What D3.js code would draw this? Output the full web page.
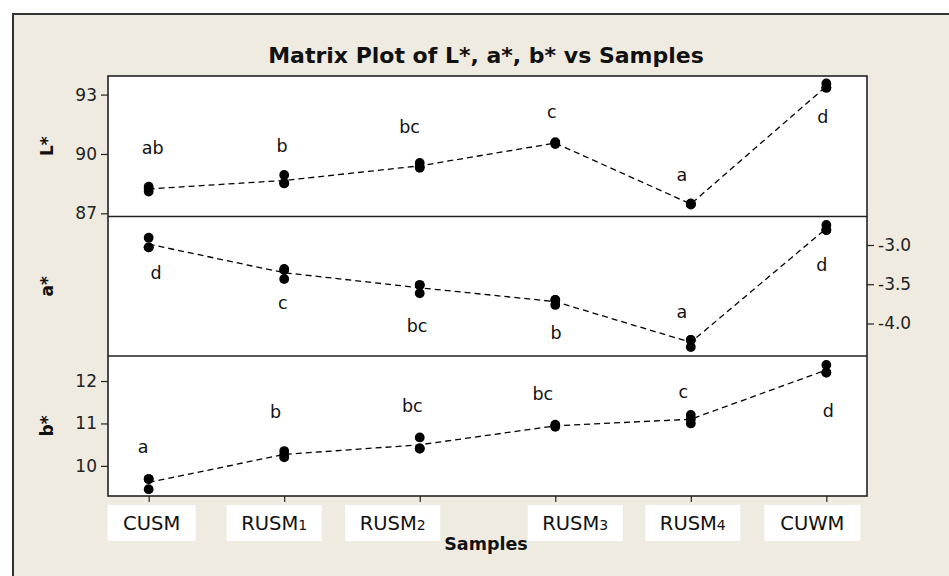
<!DOCTYPE html>
<html>
<head>
<meta charset="utf-8">
<script src="https://cdn.jsdelivr.net/npm/d3@7"></script>
<style>
  html, body { margin: 0; padding: 0; background: #ffffff; }
  svg { display: block; }
</style>
</head>
<body>
<svg id="chart" width="949" height="576"></svg>
<script>
// ---------------- DATA ----------------
const samples = ["CUSM", "RUSM1", "RUSM2", "RUSM3", "RUSM4", "CUWM"];

// replicate measurements per sample
const Lstar = [[88.35, 88.10, 88.25], [88.94, 88.52, 88.52], [89.55, 89.30, 89.35], [90.60, 90.50, 90.55], [87.50, 87.44, 87.47], [93.56, 93.35, 93.35]];
const aStar = [[-2.907, -3.03, -3.03], [-3.306, -3.433, -3.32], [-3.51, -3.615, -3.51], [-3.70, -3.764, -3.70], [-4.21, -4.30, -4.21], [-2.745, -2.81, -2.81]];
const bStar = [[9.69, 9.45, 9.69], [10.35, 10.20, 10.26], [10.67, 10.41, 10.41], [10.97, 10.92, 10.94], [11.20, 11.00, 11.10], [12.38, 12.20, 12.20]];

// significance letters and where they sit (value units / category nudge)
const Lletters = ["ab", "b", "bc", "c", "a", "d"];
const LletterY = [90.30, 90.40, 91.38, 92.14, 88.94, 91.89];
const LletterNudge = [0.03, -0.015, -0.075, -0.026, -0.066, -0.026];

const aLetters = ["d", "c", "bc", "b", "a", "d"];
const aLetterY = [-3.357, -3.735, -4.032, -4.117, -3.85, -3.255];
const aLetterNudge = [0.054, -0.011, -0.02, 0.006, -0.066, -0.033];

const bLetters = ["a", "b", "bc", "bc", "c", "d"];
const bLetterY = [10.45, 11.26, 11.41, 11.69, 11.75, 11.30];
const bLetterNudge = [-0.04, -0.063, -0.055, -0.092, -0.055, 0.015];

const Lticks = [87, 90, 93];
const aTicks = [-4.0, -3.5, -3.0];
const bTicks = [10, 11, 12];

const Ldomain = [86.84, 93.94];
const aDomain = [-4.414, -2.637];
const bDomain = [9.29, 12.59];

// ---------------- LAYOUT ----------------
const W = 949, H = 576;
const plot = { left: 108, right: 867, top: 76, bottom: 496 };
const panelEdges = [76, 216.5, 356, 496];
const labelBoxShift = [3, -10, -27, 20, 2, -14];
const labelBoxWidth = [88, 95, 95, 95, 95, 96];
const FONT = "'DejaVu Sans', Verdana, sans-serif";

const svg = d3.select("#chart");

// background
svg.append("rect").attr("x", 0).attr("y", 0).attr("width", W).attr("height", H).attr("fill", "#ffffff");
svg.append("rect").attr("x", 13).attr("y", 14).attr("width", W - 13).attr("height", H - 14).attr("fill", "#efebe1");
svg.append("path").attr("d", `M13,${H} V14 H${W}`).attr("fill", "none").attr("stroke", "#333").attr("stroke-width", 2);

// plot area
svg.append("rect")
  .attr("x", plot.left).attr("y", plot.top)
  .attr("width", plot.right - plot.left).attr("height", plot.bottom - plot.top)
  .attr("fill", "#ffffff");

const x = d3.scaleLinear().domain([0.7, 6.3]).range([plot.left, plot.right]);

const panels = [
  { data: Lstar, domain: Ldomain, ticks: Lticks, fmt: d3.format("d"), side: "left", letters: Lletters, letterY: LletterY, nudge: LletterNudge, name: "L*" },
  { data: aStar, domain: aDomain, ticks: aTicks, fmt: d3.format(".1f"), side: "right", letters: aLetters, letterY: aLetterY, nudge: aLetterNudge, name: "a*" },
  { data: bStar, domain: bDomain, ticks: bTicks, fmt: d3.format("d"), side: "left", letters: bLetters, letterY: bLetterY, nudge: bLetterNudge, name: "b*" }
];

panels.forEach((p, pi) => {
  const y0 = panelEdges[pi], y1 = panelEdges[pi + 1];
  const y = d3.scaleLinear().domain(p.domain).range([y1, y0]);

  // axis
  const axis = (p.side === "left" ? d3.axisLeft(y) : d3.axisRight(y))
    .tickValues(p.ticks).tickFormat(p.fmt).tickSize(7).tickPadding(4);
  const g = svg.append("g")
    .attr("transform", `translate(${p.side === "left" ? plot.left : plot.right},0)`)
    .call(axis);
  g.select(".domain").remove();
  g.selectAll(".tick line").attr("stroke", "#222").attr("stroke-width", 1.2);
  g.selectAll(".tick text")
    .attr("font-family", FONT).attr("font-size", 17).attr("fill", "#222")
    .text(d => p.fmt(d).replace("−", "-"));

  // mean line
  const means = p.data.map(v => d3.mean(v));
  const line = d3.line().x((d, i) => x(i + 1)).y(d => y(d));
  svg.append("path")
    .datum(means)
    .attr("d", line)
    .attr("fill", "none").attr("stroke", "#000").attr("stroke-width", 1.3)
    .attr("stroke-dasharray", "6,4");

  // points
  const pts = [];
  p.data.forEach((vals, i) => vals.forEach(v => pts.push({ i, v })));
  svg.append("g").selectAll("circle").data(pts).join("circle")
    .attr("cx", d => x(d.i + 1)).attr("cy", d => y(d.v)).attr("r", 4.9)
    .attr("fill", "#000");

  // letters
  svg.append("g").selectAll("text").data(p.letters).join("text")
    .attr("x", (d, i) => x(i + 1 + p.nudge[i]))
    .attr("y", (d, i) => y(p.letterY[i]))
    .attr("text-anchor", "middle").attr("dominant-baseline", "central")
    .attr("font-family", FONT).attr("font-size", 17.5).attr("fill", "#111")
    .text(d => d);

  // y label
  svg.append("text")
    .attr("transform", `translate(47,${(y0 + y1) / 2}) rotate(-90)`)
    .attr("text-anchor", "middle").attr("dominant-baseline", "central")
    .attr("font-family", FONT).attr("font-weight", "bold").attr("font-size", 17).attr("fill", "#111")
    .text(p.name);
});

// panel frame & separators
svg.append("rect")
  .attr("x", plot.left).attr("y", plot.top)
  .attr("width", plot.right - plot.left).attr("height", plot.bottom - plot.top)
  .attr("fill", "none").attr("stroke", "#222").attr("stroke-width", 1.6);
svg.selectAll("line.sep").data(panelEdges.slice(1, 3)).join("line")
  .attr("class", "sep")
  .attr("x1", plot.left).attr("x2", plot.right)
  .attr("y1", d => d).attr("y2", d => d)
  .attr("stroke", "#222").attr("stroke-width", 1.6);

// x axis
const xAxis = d3.axisBottom(x).tickValues(d3.range(1, samples.length + 1)).tickSize(6).tickFormat("");
const gx = svg.append("g").attr("transform", `translate(0,${plot.bottom})`).call(xAxis);
gx.select(".domain").remove();
gx.selectAll(".tick line").attr("stroke", "#222").attr("stroke-width", 1.2);

// x tick label boxes
const lab = svg.append("g").selectAll("g").data(samples).join("g")
  .attr("transform", (d, i) => `translate(${x(i + 1) + labelBoxShift[i]},0)`);
lab.append("rect")
  .attr("x", (d, i) => -labelBoxWidth[i] / 2).attr("y", 505)
  .attr("width", (d, i) => labelBoxWidth[i]).attr("height", 36)
  .attr("fill", "#ffffff");
lab.each(function (d) {
  const m = d.match(/^(.*?)(\d*)$/);
  const t = d3.select(this).append("text")
    .attr("x", 0).attr("y", 530)
    .attr("text-anchor", "middle")
    .attr("font-family", FONT).attr("font-size", 19.5).attr("fill", "#111");
  t.append("tspan").text(m[1]);
  if (m[2]) t.append("tspan").attr("font-size", 14).text(m[2]);
});

// x title
svg.append("text")
  .attr("x", 486).attr("y", 550)
  .attr("text-anchor", "middle")
  .attr("font-family", FONT).attr("font-weight", "bold").attr("font-size", 17.5).attr("fill", "#111")
  .text("Samples");

// title
svg.append("text")
  .attr("x", 486).attr("y", 63)
  .attr("text-anchor", "middle")
  .attr("font-family", FONT).attr("font-weight", "bold").attr("font-size", 22).attr("fill", "#111")
  .text("Matrix Plot of L*, a*, b* vs Samples");
</script>
</body>
</html>
